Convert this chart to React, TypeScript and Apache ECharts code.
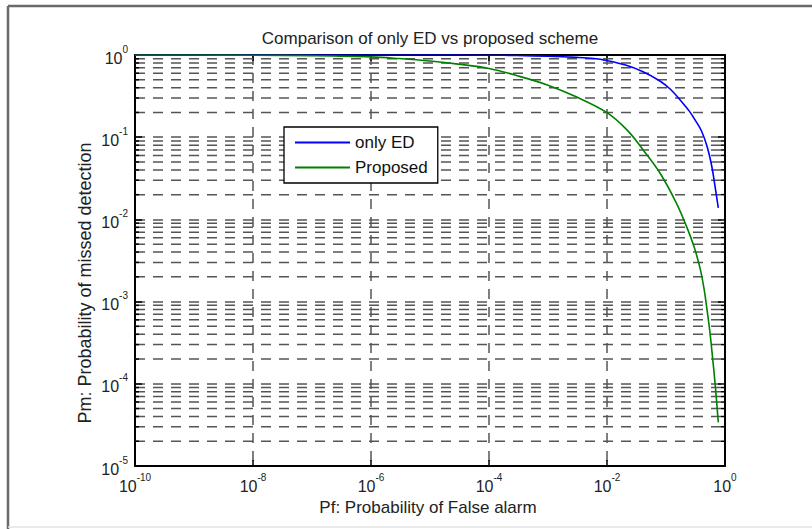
import React, { useEffect, useRef } from "react";
import * as echarts from "echarts";

// ---- data ----
const xMin = 1e-10;
const xMax = 1;
const yMin = 1e-5;
const yMax = 1;

const edPf = [1e-10, 1e-8, 1e-6, 1e-5, 1e-4, 3e-4, 1e-3, 3e-3, 6e-3, 1e-2, 2e-2, 4e-2, 8e-2, 0.12, 0.18, 0.25, 0.32, 0.4, 0.5, 0.6, 0.68, 0.77];
const edPm = [0.9999, 0.9998, 0.9995, 0.999, 0.995, 0.985, 0.965, 0.935, 0.905, 0.855, 0.76, 0.63, 0.48, 0.38, 0.275, 0.206, 0.157, 0.119, 0.076, 0.0434, 0.0248, 0.0138];

const propPf = [1e-10, 1e-9, 1e-8, 1e-7, 1e-6, 3e-6, 1e-5, 3e-5, 1e-4, 3e-4, 1e-3, 3e-3, 1e-2, 2.2e-2, 4.1e-2, 7.9e-2, 0.15, 0.22, 0.3, 0.38, 0.44, 0.49, 0.55, 0.6, 0.68, 0.77];
const propPm = [0.999, 0.998, 0.994, 0.982, 0.95, 0.905, 0.845, 0.775, 0.685, 0.56, 0.43, 0.31, 0.199, 0.122, 0.07, 0.0367, 0.0158, 0.0084, 0.0046, 0.0025, 0.00145, 0.00085, 0.00045, 0.00025, 0.0001, 0.000034];

const seriesNames = ["only ED", "Proposed"];
const titleText = "Comparison of only ED vs proposed scheme";
const xLabelText = "Pf: Probability of False alarm";
const yLabelText = "Pm: Probability of missed detection";

// minor gridline positions on the y axis (2..9 x each decade)
const minorMultipliers = [2, 3, 4, 5, 6, 7, 8, 9];
const yDecades = [1e-5, 1e-4, 1e-3, 1e-2, 1e-1];

const FONT = "Liberation Sans, Arial, Helvetica, sans-serif";
const GRID_COLOR = "#555";
const DASH = [10, 8];

export default function App() {
  const ref = useRef<HTMLDivElement>(null);

  useEffect(() => {
    document.body.style.margin = "0";
    if (!ref.current) return;
    const chart = echarts.init(ref.current, undefined, { renderer: "svg" });

    const minorY: number[] = [];
    yDecades.forEach((d) => minorMultipliers.forEach((m) => minorY.push(m * d)));

    const tickFormatter = (v: number) => {
      const e = Math.round(Math.log10(v));
      return "{b|10}{s|" + e + "}";
    };
    const rich = {
      b: { fontSize: 16, fontFamily: FONT, color: "#222", lineHeight: 22, verticalAlign: "bottom" },
      s: { fontSize: 10, fontFamily: FONT, color: "#222", lineHeight: 12, verticalAlign: "top" },
    };

    const axisLine = { show: true, onZero: false, lineStyle: { color: "#000", width: 2 } };

    const option: any = {
      animation: false,
      backgroundColor: "#fff",
      grid: { left: 135, top: 55, right: 87, bottom: 63, containLabel: false },
      legend: {
        data: seriesNames,
        left: 284,
        top: 127,
        orient: "vertical",
        icon: "rect",
        itemWidth: 55,
        itemHeight: 2,
        itemGap: 8,
        padding: [7, 10, 7, 11],
        backgroundColor: "#fff",
        borderColor: "#000",
        borderWidth: 1.3,
        textStyle: { fontSize: 17, color: "#111", fontFamily: FONT, lineHeight: 14 },
      },
      xAxis: [
        {
          type: "log",
          logBase: 10,
          min: xMin,
          max: xMax,
          interval: 2,
          position: "bottom",
          axisLine,
          axisTick: { show: true, inside: true, length: 6, lineStyle: { color: "#000", width: 1.5 } },
          axisLabel: { formatter: tickFormatter, rich, margin: 6 },
          splitLine: { show: true, lineStyle: { color: GRID_COLOR, width: 1.5, type: DASH } },
        },
        {
          type: "log",
          logBase: 10,
          min: xMin,
          max: xMax,
          interval: 2,
          position: "top",
          axisLine,
          axisTick: { show: true, inside: true, length: 6, lineStyle: { color: "#000", width: 1.5 } },
          axisLabel: { show: false },
          splitLine: { show: false },
        },
      ],
      yAxis: [
        {
          type: "log",
          logBase: 10,
          min: yMin,
          max: yMax,
          interval: 1,
          position: "left",
          axisLine,
          axisTick: { show: true, inside: true, length: 7, lineStyle: { color: "#000", width: 1.5 } },
          axisLabel: { formatter: tickFormatter, rich, margin: 7 },
          splitLine: { show: true, lineStyle: { color: GRID_COLOR, width: 1.5, type: DASH } },
        },
        {
          type: "log",
          logBase: 10,
          min: yMin,
          max: yMax,
          interval: 1,
          position: "right",
          axisLine,
          axisTick: { show: true, inside: true, length: 7, lineStyle: { color: "#000", width: 1.5 } },
          axisLabel: { show: false },
          splitLine: { show: false },
        },
      ],
      series: [
        {
          name: "minor-grid",
          type: "custom",
          xAxisIndex: 0,
          yAxisIndex: 0,
          z: 1,
          silent: true,
          data: minorY.map((v) => [xMin, v]),
          renderItem: (_params: any, api: any) => {
            const y = api.value(1);
            const p0 = api.coord([xMin, y]);
            const p1 = api.coord([xMax, y]);
            return {
              type: "group",
              children: [
                {
                  type: "line",
                  shape: { x1: p0[0], y1: p0[1], x2: p1[0], y2: p1[1] },
                  style: { stroke: GRID_COLOR, lineWidth: 1.5, lineDash: DASH },
                },
                {
                  type: "line",
                  shape: { x1: p0[0], y1: p0[1], x2: p0[0] + 4, y2: p0[1] },
                  style: { stroke: "#000", lineWidth: 1.5 },
                },
                {
                  type: "line",
                  shape: { x1: p1[0] - 4, y1: p1[1], x2: p1[0], y2: p1[1] },
                  style: { stroke: "#000", lineWidth: 1.5 },
                },
              ],
            };
          },
        },
        {
          name: seriesNames[0],
          type: "line",
          xAxisIndex: 0,
          yAxisIndex: 0,
          symbol: "none",
          smooth: 0.35,
          z: 3,
          lineStyle: { color: "#0000ff", width: 1.6 },
          itemStyle: { color: "#0000ff" },
          data: edPf.map((x, i) => [x, edPm[i]]),
        },
        {
          name: seriesNames[1],
          type: "line",
          xAxisIndex: 0,
          yAxisIndex: 0,
          symbol: "none",
          smooth: 0.35,
          z: 3,
          lineStyle: { color: "#008000", width: 1.6 },
          itemStyle: { color: "#008000" },
          data: propPf.map((x, i) => [x, propPm[i]]),
        },
      ],
      graphic: [
        { type: "line", shape: { x1: 8, y1: 6, x2: 812, y2: 6 }, style: { stroke: "#6a6a6a", lineWidth: 2.5 } },
        { type: "line", shape: { x1: 8, y1: 6, x2: 8, y2: 529 }, style: { stroke: "#6a6a6a", lineWidth: 2.5 } },
        { type: "line", shape: { x1: 8, y1: 527, x2: 812, y2: 527 }, style: { stroke: "#e2e2e2", lineWidth: 1.5 } },
        {
          type: "text",
          x: 430,
          y: 38,
          style: { text: titleText, fontSize: 17, fontFamily: FONT, fill: "#222", align: "center", verticalAlign: "middle" },
        },
        {
          type: "text",
          x: 428,
          y: 507,
          style: { text: xLabelText, fontSize: 17, fontFamily: FONT, fill: "#222", align: "center", verticalAlign: "middle" },
        },
        {
          type: "text",
          x: 85,
          y: 283,
          rotation: Math.PI / 2,
          style: { text: yLabelText, fontSize: 18, fontFamily: FONT, fill: "#222", align: "center", verticalAlign: "middle" },
        },
      ],
    };

    chart.setOption(option);
    return () => chart.dispose();
  }, []);

  return <div ref={ref} style={{ width: 812, height: 529 }} />;
}
